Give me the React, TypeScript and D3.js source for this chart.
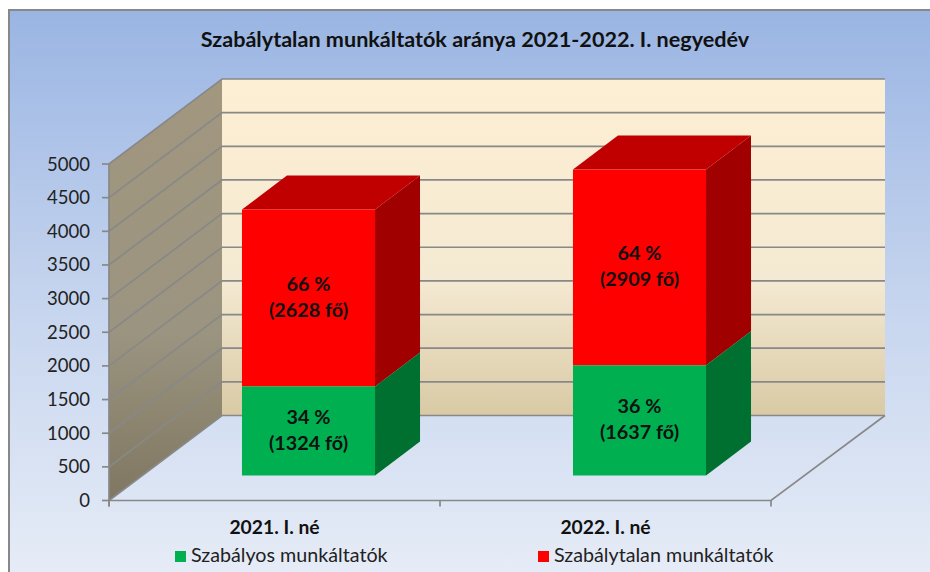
import React from "react";
import * as d3 from "d3";

const WIDTH = 930;
const HEIGHT = 572;

const title = "Szabálytalan munkáltatók aránya 2021-2022. I. negyedév";
const categories = ["2021. I. né", "2022. I. né"];
const regularValues = [1324, 1637];
const irregularValues = [2628, 2909];
const regularLabels = ["34 %", "36 %"];
const irregularLabels = ["66 %", "64 %"];
const headcountRegular = ["(1324 fő)", "(1637 fő)"];
const headcountIrregular = ["(2628 fő)", "(2909 fő)"];
const ticks = [0, 500, 1000, 1500, 2000, 2500, 3000, 3500, 4000, 4500, 5000];
const legendNames = ["Szabályos munkáltatók", "Szabálytalan munkáltatók"];

const FONT = "Lato, 'Open Sans', sans-serif";
const TEXT = "#222";
const AXIS = "#888888";

// front plane of the 3d box
const x0 = 109;
const x1 = 771;
const depthX = 113;
const depthY = 85;
// bars stand 25px in from the front edge of the floor, and are 45/34 deep
const barInsetY = 25;
const barInsetX = 34;
const barDepthX = 45;
const barDepthY = 34;

const y = d3.scaleLinear().domain([0, 5000]).range([500.5, 164]);
const x = d3.scaleBand().domain(categories).range([x0, x1]).paddingInner(0.598).paddingOuter(0.299);
const groupX = d3.scaleBand().domain(categories).range([x0, x1]);

const poly = d3.line();

type Pt = [number, number];

function Block({ left, w, bottom, top, front, side, cap }: { left: number; w: number; bottom: number; top: number; front: string; side: string; cap?: string }) {
  const r = left + w;
  const sidePts: Pt[] = [[r, bottom], [r + barDepthX, bottom - barDepthY], [r + barDepthX, top - barDepthY], [r, top]];
  const capPts: Pt[] = [[left, top], [left + barDepthX, top - barDepthY], [r + barDepthX, top - barDepthY], [r, top]];
  return (
    <g>
      <path d={poly(sidePts) + "Z"} fill={side} />
      {cap && <path d={poly(capPts) + "Z"} fill={cap} />}
      <rect x={left} y={top} width={w} height={bottom - top} fill={front} />
    </g>
  );
}

export default function App() {
  const wallLeft = x0 + depthX;
  const wallRight = x1 + depthX + 1;
  const wallTop = y(5000) - depthY;
  const wallBottom = y(0) - depthY;

  const leftWall: Pt[] = [[x0, y(0)], [wallLeft, wallBottom], [wallLeft, wallTop], [x0, y(5000)]];
  const floorEdge: Pt[] = [[x0, y(0)], [x1, y(0)], [wallRight, wallBottom]];

  return (
    <svg width={WIDTH} height={HEIGHT} style={{ position: "absolute", left: 0, top: 0, display: "block" }} fontFamily={FONT}>
      <defs>
        <linearGradient id="bg" x1="0" y1="0" x2="0" y2="1">
          <stop offset="0" stopColor="#9AB5E3" />
          <stop offset="0.5" stopColor="#C5D4EE" />
          <stop offset="1" stopColor="#E7EDF7" />
        </linearGradient>
        <linearGradient id="wall" x1="0" y1="0" x2="0" y2="1">
          <stop offset="0" stopColor="#FDEFD3" />
          <stop offset="0.6" stopColor="#F4E9D2" />
          <stop offset="1" stopColor="#D9CAA5" />
        </linearGradient>
        <linearGradient id="side" x1="0" y1="0" x2="0" y2="1">
          <stop offset="0" stopColor="#A2977F" />
          <stop offset="0.6" stopColor="#9B9480" />
          <stop offset="1" stopColor="#7F7761" />
        </linearGradient>
      </defs>

      <rect x={9} y={10} width={WIDTH} height={HEIGHT} fill="url(#bg)" stroke={AXIS} strokeWidth={2} />

      <text x={475} y={47} textAnchor="middle" fontSize={21.6} fontWeight={700} fill="#111">{title}</text>

      {/* walls */}
      <rect x={wallLeft} y={wallTop} width={wallRight - wallLeft} height={wallBottom - wallTop} fill="url(#wall)" />
      <path d={poly(leftWall) + "Z"} fill="url(#side)" />

      {/* gridlines run up the side wall and across the back */}
      {ticks.map((t) => {
        const pts: Pt[] = [[x0, y(t)], [wallLeft, y(t) - depthY], [wallRight, y(t) - depthY]];
        return <path key={t} d={poly(pts)!} fill="none" stroke={AXIS} strokeWidth={1.7} />;
      })}

      {/* floor edges */}
      <path d={poly(floorEdge)!} fill="none" stroke={AXIS} strokeWidth={1.7} />
      <line x1={x0} x2={x0} y1={y(5000)} y2={y(0) + 6} stroke={AXIS} strokeWidth={1.7} />
      {[x0, (x0 + x1) / 2, x1].map((tx) => (
        <line key={tx} x1={tx} x2={tx} y1={y(0)} y2={y(0) + 6} stroke={AXIS} strokeWidth={1.7} />
      ))}

      {/* y axis */}
      {ticks.map((t) => (
        <g key={t}>
          <line x1={x0 - 7} x2={x0} y1={y(t)} y2={y(t)} stroke={AXIS} strokeWidth={1.7} />
          <text x={x0 - 19} y={y(t) + 6.5} textAnchor="end" fontSize={18.5} fill={TEXT}>{t}</text>
        </g>
      ))}

      {/* bars */}
      {categories.map((c, i) => {
        const left = x(c)! + barInsetX;
        const w = x.bandwidth();
        const base = y(0) - barInsetY;
        const px = (v: number) => y(0) - y(v);
        const greenTop = base - px(regularValues[i]);
        const redTop = greenTop - px(irregularValues[i]);
        const cx = left + w / 2;
        return (
          <g key={c}>
            <Block left={left} w={w} bottom={greenTop} top={redTop} front="#FF0000" side="#A00000" cap="#C00000" />
            <Block left={left} w={w} bottom={base} top={greenTop} front="#00B050" side="#007030" />
            <text x={cx} textAnchor="middle" fontSize={19.8} fontWeight={700} fill="#111">
              <tspan x={cx} y={(redTop + greenTop) / 2 - 7}>{irregularLabels[i]}</tspan>
              <tspan x={cx} y={(redTop + greenTop) / 2 + 19}>{headcountIrregular[i]}</tspan>
            </text>
            <text x={cx} textAnchor="middle" fontSize={19.8} fontWeight={700} fill="#111">
              <tspan x={cx} y={(greenTop + base) / 2 - 7}>{regularLabels[i]}</tspan>
              <tspan x={cx} y={(greenTop + base) / 2 + 19}>{headcountRegular[i]}</tspan>
            </text>
            <text x={groupX(c)! + groupX.bandwidth() / 2} y={534} textAnchor="middle" fontSize={19.3} fontWeight={700} fill="#111">{c}</text>
          </g>
        );
      })}

      {/* legend */}
      {legendNames.map((name, i) => (
        <g key={name}>
          <rect x={i === 0 ? 175 : 538} y={551} width={11} height={11} fill={i === 0 ? "#00B050" : "#FF0000"} />
          <text x={i === 0 ? 191 : 554} y={562} fontSize={19.7} fill={TEXT}>{name}</text>
        </g>
      ))}
    </svg>
  );
}
